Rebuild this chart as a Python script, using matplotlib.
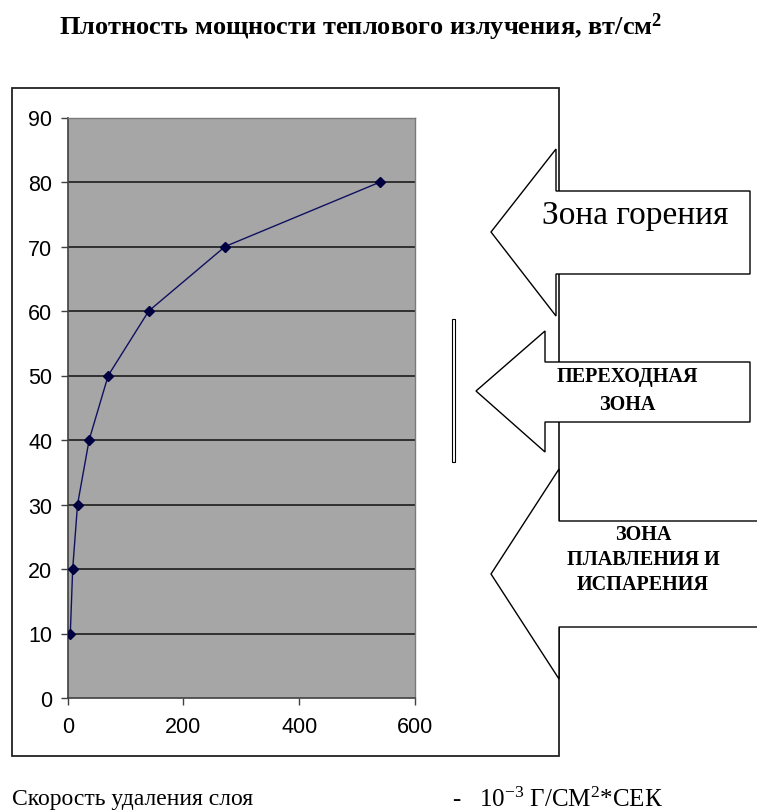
import matplotlib
matplotlib.use("Agg")
import matplotlib.pyplot as plt
from matplotlib.patches import Polygon, Rectangle

# Data: heat-radiation power density vs. layer removal rate
removal_rate = [4.5, 8.6, 17, 37, 70, 140, 272, 540]
power_density = [10, 20, 30, 40, 50, 60, 70, 80]
x_ticks = [0, 200, 400, 600]
y_ticks = [0, 10, 20, 30, 40, 50, 60, 70, 80, 90]

title_text = "Плотность мощности теплового излучения, вт/см$\\mathregular{^2}$"
x_caption = "Скорость удаления слоя"
x_units = "-   10$\\mathregular{^{-3}}$ Г/СМ$\\mathregular{^{2}}$*СЕК"
zone_labels = ["Зона горения", "ПЕРЕХОДНАЯ\nЗОНА", "ЗОНА\nПЛАВЛЕНИЯ И\nИСПАРЕНИЯ"]

W, H = 757, 812
fig = plt.figure(figsize=(W / 100, H / 100), dpi=100)
fig.patch.set_facecolor("white")


def fx(x):
    return x / W


def fy(y):
    return 1 - y / H


def pts(seq):
    return [(fx(x), fy(y)) for x, y in seq]


serif = "Liberation Serif"
sans = "Liberation Sans"

# Outer chart frame
fig.add_artist(Rectangle((fx(12), fy(757)), fx(559) - fx(12), fy(89) - fy(757),
                         transform=fig.transFigure, facecolor="white",
                         edgecolor="#222222", lw=1.3, zorder=0))

# Plot area
ax = fig.add_axes([fx(67.7), fy(699), fx(415) - fx(67.7), fy(118.5) - fy(699)])
ax.set_facecolor("#A6A6A6")
ax.set_xlim(0, 600)
ax.set_ylim(0, 90)
ax.set_xticks(x_ticks)
ax.set_yticks(y_ticks)
for v in y_ticks[1:-1]:
    ax.axhline(v, color="#111111", lw=1.1, zorder=1)
ax.plot(removal_rate, power_density, color="#101060", lw=1.0,
        marker="D", markersize=5, markerfacecolor="#000040",
        markeredgecolor="#000040", zorder=3)
for s in ["left", "bottom"]:
    ax.spines[s].set_color("#404040")
    ax.spines[s].set_linewidth(1.2)
for s in ["top", "right"]:
    ax.spines[s].set_color("#7a7a7a")
    ax.spines[s].set_linewidth(1.0)
ax.tick_params(axis="both", direction="out", length=5, width=1, color="#404040",
               labelsize=15.5, pad=6)
ax.tick_params(axis="x", pad=8)
for lab in ax.get_xticklabels() + ax.get_yticklabels():
    lab.set_fontfamily(sans)

# Title
fig.text(fx(361), fy(27), title_text, ha="center", va="center",
         fontfamily=serif, fontweight="bold", fontsize=19)

# Zone arrows pointing left toward the chart
arrow1 = [(491, 233), (556, 150), (556, 192), (750, 192), (750, 275),
          (556, 275), (556, 317)]
arrow2 = [(476, 392), (545, 332), (545, 363), (750, 363), (750, 423),
          (545, 423), (545, 453)]
arrow3 = [(491, 575), (559, 470), (559, 522), (770, 522), (770, 628),
          (559, 628), (559, 680)]
for shape in (arrow1, arrow2, arrow3):
    fig.add_artist(Polygon(pts(shape), closed=True, transform=fig.transFigure,
                           facecolor="white", edgecolor="black", lw=1.0,
                           zorder=2))

# Bracket bar beside the transition zone
fig.add_artist(Rectangle((fx(452), fy(463)), fx(455) - fx(452), fy(320) - fy(463),
                         transform=fig.transFigure, facecolor="white",
                         edgecolor="black", lw=0.8, zorder=2))

fig.text(fx(635), fy(216), zone_labels[0], ha="center", va="center",
         fontfamily=serif, fontsize=24, zorder=3)
fig.text(fx(627), fy(391), zone_labels[1], ha="center", va="center",
         fontfamily=serif, fontweight="bold", fontsize=14.5, linespacing=1.5,
         zorder=3)
fig.text(fx(643), fy(560), zone_labels[2], ha="center", va="center",
         fontfamily=serif, fontweight="bold", fontsize=14.5, linespacing=1.3,
         zorder=3)

# Axis caption under the chart
fig.text(fx(12), fy(800), x_caption, ha="left", va="center",
         fontfamily=serif, fontsize=17)
fig.text(fx(452), fy(800), x_units, ha="left", va="center",
         fontfamily=serif, fontsize=18)

fig.savefig("out.png", dpi=100)
